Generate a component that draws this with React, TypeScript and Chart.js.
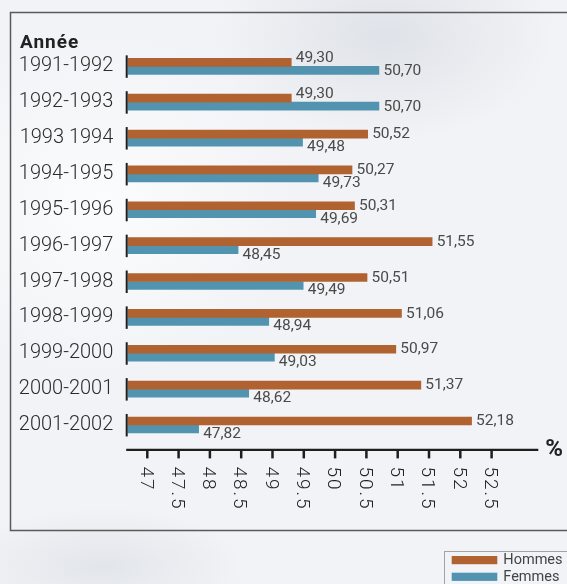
import { useEffect, useRef } from 'react';
import { Chart, registerables } from 'chart.js';

Chart.register(...registerables);

const categories = ['1991-1992', '1992-1993', '1993 1994', '1994-1995', '1995-1996', '1996-1997', '1997-1998', '1998-1999', '1999-2000', '2000-2001', '2001-2002'];
const hommes = [49.30, 49.30, 50.52, 50.27, 50.31, 51.55, 50.51, 51.06, 50.97, 51.37, 52.18];
const femmes = [50.70, 50.70, 49.48, 49.73, 49.69, 48.45, 49.49, 48.94, 49.03, 48.62, 47.82];
const xTicks = [47, 47.5, 48, 48.5, 49, 49.5, 50, 50.5, 51, 51.5, 52, 52.5];
const seriesNames = ['Hommes', 'Femmes'];
const seriesColors = ['#b06230', '#5294b0'];
const axisTitle = 'Année';
const unitLabel = '%';
const xMin = 46.687;
const xMax = 53.246;

const fmt = (v: number) => v.toFixed(2).replace('.', ',');

const decor = {
  id: 'decor',
  beforeDraw(chart: any) {
    const ctx = chart.ctx as CanvasRenderingContext2D;
    ctx.save();
    ctx.strokeStyle = '#5a5a5a';
    ctx.lineWidth = 1.5;
    ctx.strokeRect(10.5, 12.5, 640, 518);
    ctx.restore();
  },
  afterDatasetsDraw(chart: any) {
    const ctx = chart.ctx as CanvasRenderingContext2D;
    const m0 = chart.getDatasetMeta(0);
    const m1 = chart.getDatasetMeta(1);
    const d0 = chart.data.datasets[0].data as number[];
    const d1 = chart.data.datasets[1].data as number[];
    ctx.save();
    ctx.font = '15.5px Roboto';
    ctx.fillStyle = '#4a4a4a';
    ctx.textAlign = 'left';
    ctx.textBaseline = 'middle';
    d0.forEach((v, i) => {
      const b0 = m0.data[i];
      const b1 = m1.data[i];
      const hShort = v < d1[i];
      ctx.fillText(fmt(v), b0.x + 4.5, b0.y + (hShort ? -4 : 0.3));
      ctx.fillText(fmt(d1[i]), b1.x + 4.5, b1.y + (hShort ? 1 : 5));
    });
    ctx.restore();
  },
  afterDraw(chart: any) {
    const ctx = chart.ctx as CanvasRenderingContext2D;
    const area = chart.chartArea;
    const xs = chart.scales.x;
    const ys = chart.scales.y;
    ctx.save();
    // axis title
    ctx.font = 'bold 19px Roboto';
    ctx.fillStyle = '#222';
    ctx.textAlign = 'left';
    ctx.textBaseline = 'alphabetic';
    (ctx as any).letterSpacing = '1px';
    ctx.fillText(axisTitle, 20, 47.5);
    (ctx as any).letterSpacing = '0px';
    // category marks
    ctx.strokeStyle = '#1e1e1e';
    ctx.lineWidth = 2;
    categories.forEach((_, i) => {
      const y = ys.getPixelForValue(i);
      ctx.beginPath();
      ctx.moveTo(area.left - 1, y - 11);
      ctx.lineTo(area.left - 1, y + 11.5);
      ctx.stroke();
    });
    // x axis
    const axisY = area.bottom + 7;
    ctx.lineWidth = 2.3;
    ctx.beginPath();
    ctx.moveTo(area.left - 1.5, axisY);
    ctx.lineTo(area.right, axisY);
    ctx.stroke();
    ctx.lineWidth = 2.5;
    ctx.fillStyle = '#222';
    xTicks.forEach((v) => {
      const x = xs.getPixelForValue(v);
      ctx.beginPath();
      ctx.moveTo(x, axisY);
      ctx.lineTo(x, axisY + 8.5);
      ctx.stroke();
      ctx.save();
      ctx.translate(x, axisY + 16.5);
      ctx.rotate(Math.PI / 2);
      ctx.font = '300 19px Roboto';
      (ctx as any).letterSpacing = '2px';
      ctx.textAlign = 'left';
      ctx.textBaseline = 'alphabetic';
      ctx.fillText(String(v), 0, 6.75);
      ctx.restore();
    });
    // unit
    ctx.font = 'bold 24px Roboto';
    ctx.textAlign = 'left';
    ctx.textBaseline = 'middle';
    ctx.fillText(unitLabel, area.right + 7, axisY);
    // legend
    ctx.strokeStyle = '#a3a3a3';
    ctx.lineWidth = 1;
    ctx.strokeRect(444.5, 551.5, 200, 100);
    ctx.font = '14.5px Roboto';
    ctx.fillStyle = '#444';
    chart.data.datasets.forEach((ds: any, i: number) => {
      const cy = 560 + i * 16.7;
      ctx.fillStyle = ds.backgroundColor;
      ctx.fillRect(451.7, cy - 4, 45.6, 8.2);
      ctx.fillStyle = '#444';
      ctx.fillText(ds.label, 503.3, cy + 0.5);
    });
    ctx.restore();
  },
};

export default function App() {
  const ref = useRef<HTMLCanvasElement | null>(null);
  useEffect(() => {
    if (!ref.current) return;
    const chart = new Chart(ref.current, {
      type: 'bar',
      data: {
        labels: categories,
        datasets: [
          { label: seriesNames[0], data: hommes, backgroundColor: seriesColors[0], barThickness: 8 },
          { label: seriesNames[1], data: femmes, backgroundColor: seriesColors[1], barThickness: 8 },
        ],
      },
      options: {
        indexAxis: 'y',
        animation: false,
        responsive: false,
        devicePixelRatio: 1,
        layout: { padding: { left: 0, top: 48.4, right: 28.7, bottom: 141.1 } },
        plugins: { legend: { display: false }, tooltip: { enabled: false } },
        scales: {
          x: { type: 'linear', min: xMin, max: xMax, display: false },
          y: {
            type: 'category',
            grid: { display: false, drawTicks: false },
            border: { display: false },
            ticks: {
              autoSkip: false,
              padding: 14.4,
              color: '#2b2b2b',
              font: { family: 'Roboto', size: 20, weight: '300' as any },
            },
            afterFit: (s: any) => { s.width = 127.7; },
          },
        },
      },
      plugins: [decor],
    });
    return () => chart.destroy();
  }, []);
  return (
    <div
      style={{
        position: 'absolute', left: 0, top: 0, width: 567, height: 584, overflow: 'hidden',
        background:
          'radial-gradient(ellipse 35% 30% at 18% 35%, #fbfcfd 0%, rgba(251,252,253,0) 100%),' +
          'radial-gradient(ellipse 30% 18% at 68% 6%, #dfe2e8 0%, rgba(223,226,232,0) 100%),' +
          'radial-gradient(ellipse 25% 10% at 18% 97%, #e2e5ea 0%, rgba(226,229,234,0) 100%),' +
          '#f1f3f6',
      }}
    >
      <canvas ref={ref} width={567} height={584} style={{ display: 'block' }} />
    </div>
  );
}
